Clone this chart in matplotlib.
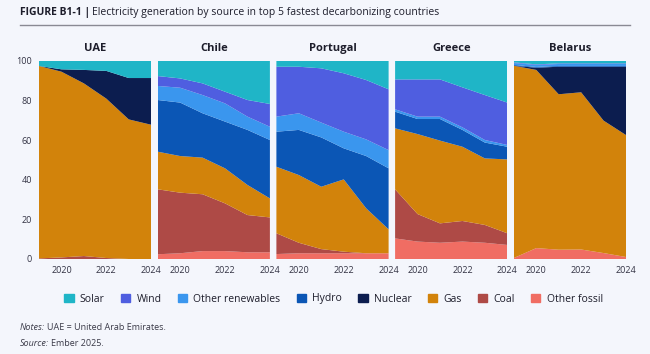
import matplotlib.pyplot as plt
from matplotlib.patches import Patch

plt.rcParams['font.family'] = ['Open Sans', 'DejaVu Sans']

years = [2019, 2020, 2021, 2022, 2023, 2024]
countries = ["UAE", "Chile", "Portugal", "Greece", "Belarus"]
sources = ["Other fossil", "Coal", "Gas", "Nuclear", "Hydro", "Other renewables", "Wind", "Solar"]
colors = {
    "Solar": "#1fb5c7",
    "Wind": "#4f5ee0",
    "Other renewables": "#3a96ee",
    "Hydro": "#0b56b5",
    "Nuclear": "#0c1d4f",
    "Gas": "#d2830b",
    "Coal": "#ae4a46",
    "Other fossil": "#f06d63",
}

# share of generation (%), bottom to top
uae = {
    "Other fossil": [0, 0, 0, 0, 0, 0],
    "Coal": [0.3, 0.8, 1.5, 0.5, 0, 0],
    "Gas": [97.2, 93.8, 87.2, 80.5, 70.5, 67.8],
    "Nuclear": [0, 1.2, 6.8, 14.0, 20.9, 23.6],
    "Hydro": [0, 0, 0, 0, 0, 0],
    "Other renewables": [0, 0, 0, 0, 0, 0],
    "Wind": [0, 0, 0, 0, 0, 0],
    "Solar": [2.5, 4.2, 4.5, 5.0, 8.6, 8.6],
}
chile = {
    "Other fossil": [2.4, 2.9, 4.0, 4.0, 3.4, 3.4],
    "Coal": [32.8, 30.6, 28.7, 24.1, 18.8, 17.6],
    "Gas": [19.0, 18.5, 18.5, 17.7, 15.2, 9.6],
    "Nuclear": [0, 0, 0, 0, 0, 0],
    "Hydro": [26.1, 27.0, 22.4, 23.6, 27.8, 29.5],
    "Other renewables": [7.1, 7.5, 9.2, 9.2, 6.7, 6.7],
    "Wind": [5.0, 4.7, 5.9, 5.9, 8.4, 11.5],
    "Solar": [7.6, 8.8, 11.3, 15.5, 19.7, 21.7],
}
portugal = {
    "Other fossil": [2.5, 2.9, 2.9, 2.9, 2.9, 2.9],
    "Coal": [10.5, 5.3, 2.1, 0.8, 0, 0],
    "Gas": [33.6, 34.2, 31.5, 36.5, 22.7, 12.1],
    "Nuclear": [0, 0, 0, 0, 0, 0],
    "Hydro": [17.7, 22.8, 24.9, 15.7, 26.4, 30.8],
    "Other renewables": [7.6, 8.4, 7.5, 8.4, 8.4, 9.2],
    "Wind": [25.2, 23.5, 27.4, 29.5, 30.0, 30.7],
    "Solar": [2.9, 2.9, 3.7, 6.2, 9.6, 14.3],
}
greece = {
    "Other fossil": [10.4, 8.8, 8.2, 8.8, 8.2, 7.1],
    "Coal": [24.8, 13.9, 9.8, 10.4, 9.0, 5.9],
    "Gas": [30.8, 40.4, 41.8, 37.5, 33.6, 37.3],
    "Nuclear": [0, 0, 0, 0, 0, 0],
    "Hydro": [8.4, 7.6, 10.9, 8.5, 8.0, 6.4],
    "Other renewables": [1.2, 1.2, 1.2, 1.3, 1.3, 0.9],
    "Wind": [15.1, 18.8, 18.8, 20.2, 22.7, 21.4],
    "Solar": [9.3, 9.3, 9.3, 13.3, 17.2, 21.0],
}
belarus = {
    "Other fossil": [0.5, 5.5, 4.7, 4.8, 3.0, 1.0],
    "Coal": [0, 0, 0, 0, 0, 0],
    "Gas": [97.1, 90.0, 78.5, 79.4, 66.9, 61.6],
    "Nuclear": [0, 1.1, 13.9, 12.9, 27.2, 34.5],
    "Hydro": [0.4, 0.4, 0.4, 0.4, 0.4, 0.4],
    "Other renewables": [1.0, 1.0, 1.0, 1.0, 1.0, 1.0],
    "Wind": [0.3, 0.3, 0.3, 0.3, 0.3, 0.3],
    "Solar": [0.7, 1.7, 1.2, 1.2, 1.2, 1.2],
}
data = [uae, chile, portugal, greece, belarus]

bg = "#f4f6fc"
txt = "#1d1d2b"
fig = plt.figure(figsize=(6.5, 3.54), dpi=100, facecolor=bg)

W, H = 650, 354
left, right, top, bottom = 39, 626, 61, 259
gap = 6.5
pw = (right - left - 4 * gap) / 5

for i, (name, d) in enumerate(zip(countries, data)):
    x0 = left + i * (pw + gap)
    ax = fig.add_axes([x0 / W, 1 - bottom / H, pw / W, (bottom - top) / H])
    ax.set_facecolor(bg)
    ax.stackplot(years, [d[s] for s in sources], colors=[colors[s] for s in sources], linewidth=0)
    ax.set_xlim(2019, 2024)
    ax.set_ylim(0, 100)
    ax.set_xticks([2020, 2022, 2024])
    ax.set_yticks([0, 20, 40, 60, 80, 100])
    ax.tick_params(length=0, labelsize=6.5, colors="#333344", pad=5)
    if i > 0:
        ax.set_yticklabels([])
    for sp in ax.spines.values():
        sp.set_visible(False)
    ax.set_title(name, fontsize=8, fontweight="bold", color=txt, pad=7)

# title
t1 = fig.text(20 / W, 1 - 12 / H, "FIGURE B1-1 |", fontsize=7.5, fontweight="bold", color=txt, va="center")
r = fig.canvas.get_renderer()
bb = t1.get_window_extent(r)
fig.text((bb.x1 + 2) / W, 1 - 12 / H, "Electricity generation by source in top 5 fastest decarbonizing countries",
         fontsize=7.5, color=txt, va="center")
fig.add_artist(plt.Line2D([20 / W, 630 / W], [1 - 25 / H, 1 - 25 / H], color="#8a8a94", lw=1))

# legend
handles = [Patch(color=colors[s], label=s) for s in sources[::-1]]
fig.legend(handles=handles, loc="center", bbox_to_anchor=(0.513, 1 - 299 / H), ncol=8, frameon=False,
           fontsize=7.5, handlelength=0.9, handleheight=0.9, columnspacing=1.55, handletextpad=0.6,
           labelcolor=txt)

# notes
for y, lab, rest in [(328, "Notes:", "UAE = United Arab Emirates."), (344, "Source:", "Ember 2025.")]:
    a = fig.text(20 / W, 1 - y / H, lab, fontsize=6.5, style="italic", color="#3a3a48", va="center")
    b = a.get_window_extent(r)
    fig.text((b.x1 + 2) / W, 1 - y / H, rest, fontsize=6.5, color="#3a3a48", va="center")

fig.savefig("out.png", dpi=100, facecolor=bg)
